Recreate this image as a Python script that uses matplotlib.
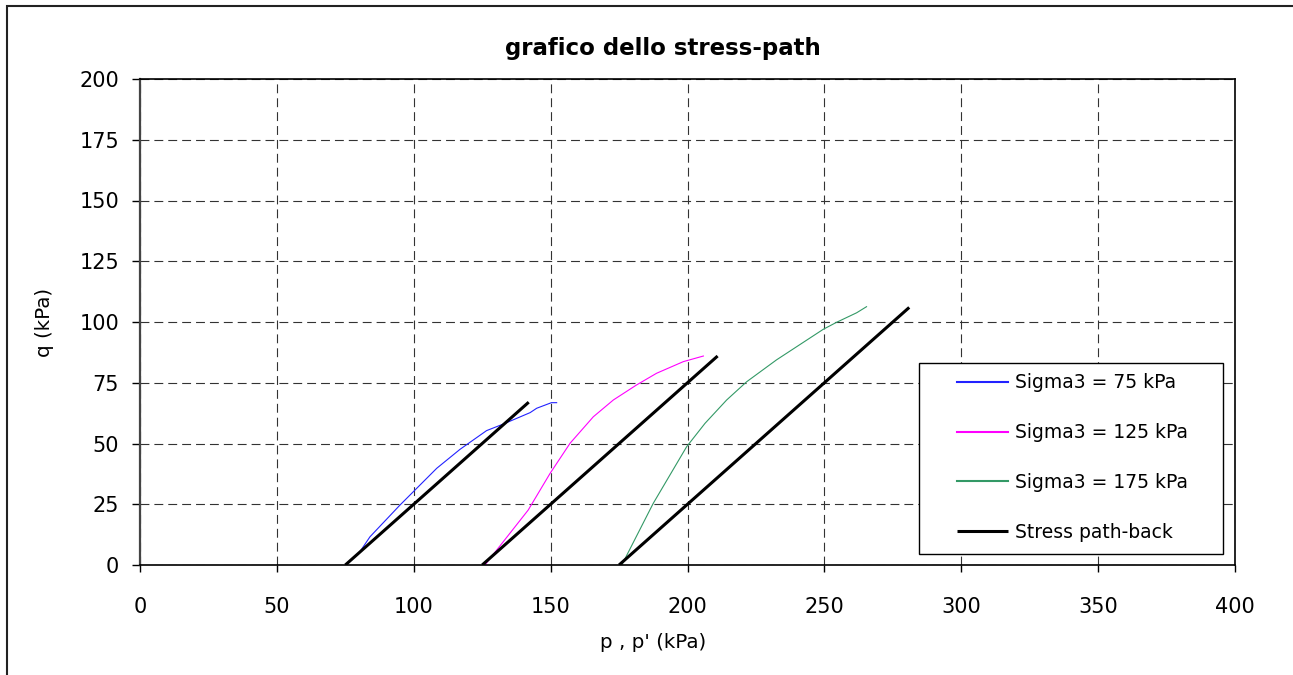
import matplotlib
matplotlib.use("Agg")
import matplotlib.pyplot as plt
from matplotlib.patches import Rectangle

# ---- data ----
p_s75 = [75, 80, 84, 95, 108.4, 116.9, 126.6, 132.7, 142.5, 144.9, 150.3, 152.2]
q_s75 = [0, 4.9, 11.6, 24.7, 39.8, 47.6, 55.3, 58.0, 62.7, 64.5, 66.8, 66.8]

p_s125 = [126, 141.8, 149.8, 157.1, 165.6, 172.9, 181.4, 188.7, 198.5, 205.8]
q_s125 = [0, 22.6, 37.7, 50.1, 61.0, 67.9, 74.1, 78.9, 83.7, 86.0]

p_s175 = [176, 187.5, 199.7, 206.4, 214.3, 221.6, 232.5, 249.6, 254.5, 261.8, 265.4]
q_s175 = [0, 25.4, 48.7, 58.3, 67.9, 75.4, 84.4, 97.0, 99.9, 103.8, 106.3]

back_p = [[75, 142], [125, 211], [175, 281]]
back_q = [[0, 67], [0, 86], [0, 106]]

labels = ["Sigma3 = 75 kPa", "Sigma3 = 125 kPa", "Sigma3 = 175 kPa", "Stress path-back"]
colors = ["#2222ff", "#ff00ff", "#339966", "black"]

xticks = [0, 50, 100, 150, 200, 250, 300, 350, 400]
yticks = [0, 25, 50, 75, 100, 125, 150, 175, 200]

W, H = 1293, 675
fig = plt.figure(figsize=(W / 100, H / 100), dpi=100)
ax = fig.add_axes([140 / W, 1 - 565 / H, (1235 - 140) / W, (565 - 79) / H])

l1, = ax.plot(p_s75, q_s75, color=colors[0], lw=0.8)
l2, = ax.plot(p_s125, q_s125, color=colors[1], lw=0.8)
l3, = ax.plot(p_s175, q_s175, color=colors[2], lw=0.8)
lb = None
for bp, bq in zip(back_p, back_q):
    lb, = ax.plot(bp, bq, color=colors[3], lw=2.2, solid_capstyle='butt')

ax.set_xlim(0, 400)
ax.set_ylim(0, 200)
ax.set_xticks(xticks)
ax.set_yticks(yticks)
ax.grid(True, color='#333333', linestyle=(0, (8, 4.5)), lw=0.8)
ax.set_axisbelow(True)

ax.tick_params(axis='x', direction='out', length=5, width=1, pad=18, labelsize=15)
ax.tick_params(axis='y', direction='out', length=6, width=1, pad=9, labelsize=15)

for s in ['top', 'right', 'bottom']:
    ax.spines[s].set_color('black')
    ax.spines[s].set_linewidth(1.2)
ax.spines['left'].set_color('#444444')
ax.spines['left'].set_linewidth(1.6)

fig.text(663 / W, 1 - 48 / H, "grafico dello stress-path", ha='center', va='center',
         fontsize=16.5, fontweight='bold')
fig.text(653 / W, 1 - 643 / H, "p , p' (kPa)", ha='center', va='center', fontsize=14.3)
fig.text(44 / W, 1 - 322 / H, "q (kPa)", ha='center', va='center', fontsize=14.3, rotation=90)

# legend frame drawn separately so the entries can be inset like the original
fig.patches.append(Rectangle((919 / W, 1 - 554 / H), (1223 - 919) / W, (554 - 363) / H,
                             transform=fig.transFigure, facecolor='white',
                             edgecolor='black', lw=1.0, zorder=5))
leg = fig.legend([l1, l2, l3, lb], labels, loc='upper left',
                 bbox_to_anchor=(947 / W, 1 - 363 / H),
                 borderaxespad=0, frameon=False,
                 fontsize=13.5, handlelength=2.7, handletextpad=0.4,
                 labelspacing=1.64, borderpad=0.55)
leg.set_zorder(6)
for h in leg.legend_handles[:3]:
    h.set_linewidth(1.5)
leg.legend_handles[3].set_linewidth(2.2)

# outer chart border
fig.patches.append(Rectangle((7 / W, -0.05), 1.2, 1 - 6 / H + 0.05, transform=fig.transFigure,
                             fill=False, edgecolor='#222222', lw=1.5))

fig.savefig("out.png", dpi=100)
